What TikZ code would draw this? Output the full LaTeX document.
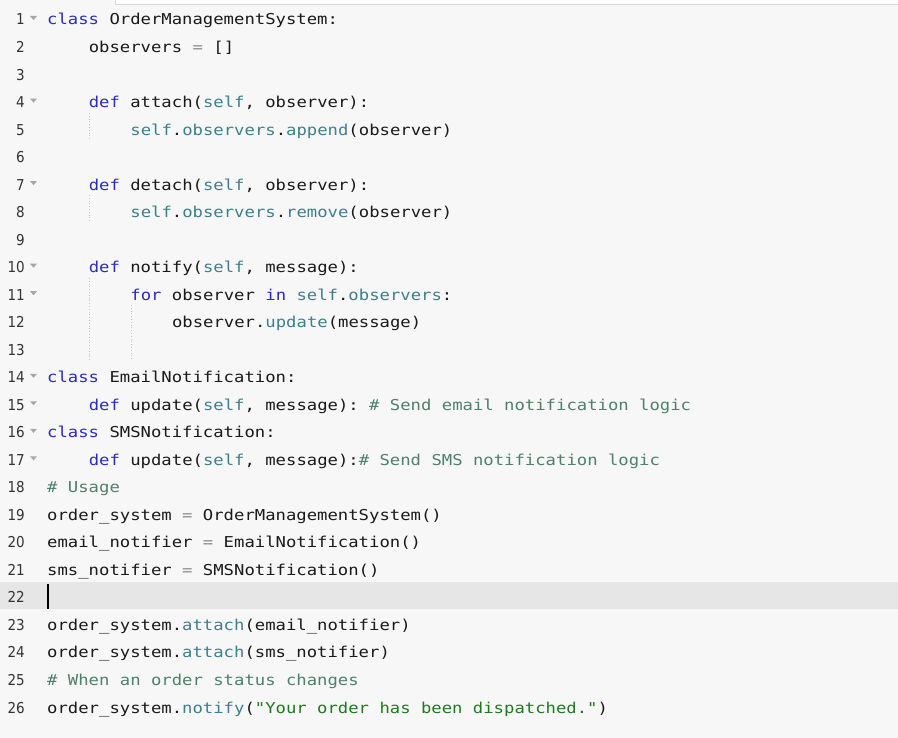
\documentclass[tikz,border=0pt]{standalone}
\usepackage{fontspec}
\setmonofont[FakeStretch=1.15]{DejaVu Sans Mono}
\setmainfont{DejaVu Sans}
\definecolor{bg}{HTML}{F7F7F7}
\definecolor{hl}{HTML}{E6E6E6}
\definecolor{kw}{HTML}{2B2BC2}
\definecolor{sf}{HTML}{3E7F8E}
\definecolor{cm}{HTML}{4E806A}
\definecolor{st}{HTML}{1F7A1F}
\definecolor{op}{HTML}{8A8A8A}
\definecolor{tx}{HTML}{1A1A1A}
\definecolor{ln}{HTML}{333333}
\newcommand{\K}[1]{\textcolor{kw}{#1}}
\newcommand{\Sf}[1]{\textcolor{sf}{#1}}
\newcommand{\Cm}[1]{\textcolor{cm}{#1}}
\newcommand{\St}[1]{\textcolor{st}{#1}}
\newcommand{\Eq}{\textcolor{op}{=}}
\tikzset{
  code/.style={anchor=base west,inner sep=0pt,font=\ttfamily\fontsize{15}{15}\selectfont,text=tx},
  num/.style={anchor=base east,inner sep=0pt,font=\fontsize{15}{15}\selectfont\addfontfeature{FakeStretch=0.9},text=ln},
  fold/.style={fill=gray!70,draw=none},
  guide/.style={draw=gray!45,dotted,line width=0.8pt}
}
\begin{document}
\begin{tikzpicture}[x=1pt,y=-1pt]
\useasboundingbox (0,0) rectangle (898,738);
\fill[bg] (0,0) rectangle (898,738);
\fill[white] (115,0) rectangle (898,4);
\draw[gray!30] (115,0) -- (115,4) -- (898,4);
\fill[hl] (0,582) rectangle (898,609);
\foreach \i in {1,...,26}{
  \node[num] (n\i) at (25,{25+(\i-1)*27.52}) {\i};
}
\foreach \i in {1,4,7,10,11,14,15,16,17}{
  \fill[fold] (30,{16+(\i-1)*27.52}) -- (37,{16+(\i-1)*27.52}) -- (33.5,{20+(\i-1)*27.52}) -- cycle;
}
\draw[guide] (89,{113}) -- (89,{140});
\draw[guide] (89,{195}) -- (89,{222});
\draw[guide] (89,{278}) -- (89,{360});
\draw[guide] (131,{305}) -- (131,{360});
\def\a{47}\def\b{88.6}\def\c{130.2}\def\d{171.8}
\node[code] (l1) at (\a,25) {\K{class} OrderManagementSystem:};
\node[code] (l2) at (\b,52.52) {observers \Eq{} []};
\node[code] (l4) at (\b,107.56) {\K{def} attach(\Sf{self}, observer):};
\node[code] (l5) at (\c,135.08) {\Sf{self}.\Sf{observers}.\Sf{append}(observer)};
\node[code] (l7) at (\b,190.12) {\K{def} detach(\Sf{self}, observer):};
\node[code] (l8) at (\c,217.64) {\Sf{self}.\Sf{observers}.\Sf{remove}(observer)};
\node[code] (l10) at (\b,272.68) {\K{def} notify(\Sf{self}, message):};
\node[code] (l11) at (\c,300.2) {\K{for} observer \K{in} \Sf{self}.\Sf{observers}:};
\node[code] (l12) at (\d,327.72) {observer.\Sf{update}(message)};
\node[code] (l14) at (\a,382.76) {\K{class} EmailNotification:};
\node[code] (l15) at (\b,410.28) {\K{def} update(\Sf{self}, message): \Cm{\# Send email notification logic}};
\node[code] (l16) at (\a,437.8) {\K{class} SMSNotification:};
\node[code] (l17) at (\b,465.32) {\K{def} update(\Sf{self}, message):\Cm{\# Send SMS notification logic}};
\node[code] (l18) at (\a,492.84) {\Cm{\# Usage}};
\node[code] (l19) at (\a,520.36) {order\_system \Eq{} OrderManagementSystem()};
\node[code] (l20) at (\a,547.88) {email\_notifier \Eq{} EmailNotification()};
\node[code] (l21) at (\a,575.4) {sms\_notifier \Eq{} SMSNotification()};
\draw[black,line width=1.3pt] (48,584) -- (48,609);
\node[code] (l23) at (\a,630.44) {order\_system.\Sf{attach}(email\_notifier)};
\node[code] (l24) at (\a,657.96) {order\_system.\Sf{attach}(sms\_notifier)};
\node[code] (l25) at (\a,685.48) {\Cm{\# When an order status changes}};
\node[code] (l26) at (\a,713) {order\_system.\Sf{notify}(\St{"Your order has been dispatched."})};
\end{tikzpicture}
\end{document}
